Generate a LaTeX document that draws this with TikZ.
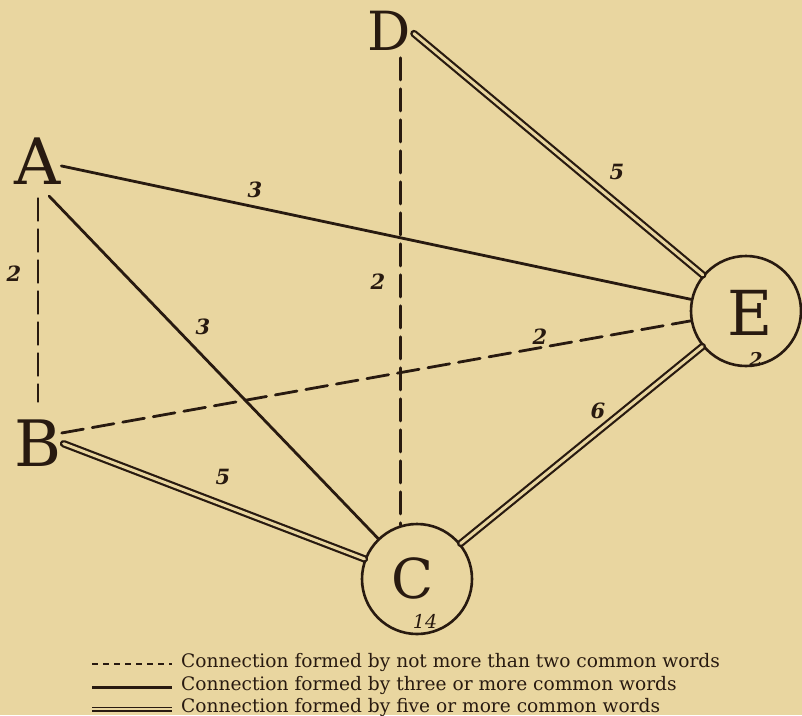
\documentclass[tikz,border=0pt]{standalone}
\usepackage{fontspec}
\setmainfont{DejaVu Serif}

\definecolor{paper}{RGB}{233,214,160}
\definecolor{ink}{RGB}{40,26,16}

\tikzset{
  town/.style={font=\fontsize{64}{64}\selectfont, text=ink, inner sep=0pt},
  ring/.style={circle, draw=ink, line width=2.6pt, minimum size=110pt, inner sep=0pt},
  weak/.style={draw=ink, line width=2.8pt, dash pattern=on 22pt off 9pt},
  plain/.style={draw=ink, line width=2.8pt},
  strong/.style={draw=ink, line width=2.2pt, double=paper, double distance=3pt},
  wt/.style={font=\fontsize{21}{21}\selectfont\bfseries\itshape, text=ink, inner sep=0pt},
  key/.style={font=\fontsize{18.6}{18.6}\selectfont, text=ink, inner sep=0pt, anchor=base west},
}

\begin{document}
\begin{tikzpicture}[x=1pt, y=-1pt, line cap=round]
  \useasboundingbox (0,0) rectangle (802,715);
  \fill[paper] (0,0) rectangle (802,715);

  % places
  \node[town] (A) at (38,161) {A};
  \node[town] (B) at (38,443) {B};
  \node[town, font=\fontsize{54}{54}\selectfont] (D) at (389,31) {D};
  \node[ring] (C) at (417,579) {};
  \node[ring] (E) at (746,311) {};
  \node[town, font=\fontsize{55}{55}\selectfont] (Cl) at (413,578) {C};
  \node[town, font=\fontsize{62}{62}\selectfont] (El) at (750,313) {E};
  \node[wt, font=\fontsize{19}{19}\selectfont\itshape] (Cn) at (425,621) {14};
  \node[wt, font=\fontsize{19}{19}\selectfont\bfseries\itshape] (En) at (756,359) {2};

  % connections
  \draw[weak, shorten <=14pt, shorten >=18pt] (A.south) -- (B.north);
  \draw[weak, shorten <=7pt] (C.107 |- D.south) -- (C.107);
  \draw[weak] ([yshift=10pt]B.east) -- (E);
  \draw[plain] (A) -- (E);
  \draw[plain, shorten <=16pt] (A.south) -- (C);
  \draw[strong, shorten <=2pt] (B.east) -- (C);
  \draw[strong, shorten <=4pt] (D.east) -- (E);
  \draw[strong] (C) -- (E);

  % weights
  \node[wt] (wAB) at (14,274) {2};
  \node[wt] (wAE) at (255,190) {3};
  \node[wt] (wAC) at (203,327) {3};
  \node[wt] (wDC) at (378,282) {2};
  \node[wt] (wBE) at (540,337) {2};
  \node[wt] (wDE) at (617,172) {5};
  \node[wt] (wBC) at (223,477) {5};
  \node[wt] (wCE) at (598,411) {6};

  % key
  \node[key] (k1) at (181,667) {Connection formed by not more than two common words};
  \node[key] (k2) at (181,690) {Connection formed by three or more common words};
  \node[key] (k3) at (181,712) {Connection formed by five or more common words};
  \draw[draw=ink, line width=2pt, dash pattern=on 6pt off 5pt, line cap=butt]
    ([xshift=-89pt]k1.mid west) -- ([xshift=-9pt]k1.mid west);
  \draw[plain, line width=2.2pt, line cap=butt]
    ([xshift=-89pt]k2.mid west) -- ([xshift=-9pt]k2.mid west);
  \draw[strong, line width=1.8pt, double distance=2pt, line cap=butt]
    ([xshift=-89pt]k3.mid west) -- ([xshift=-9pt]k3.mid west);
\end{tikzpicture}
\end{document}
